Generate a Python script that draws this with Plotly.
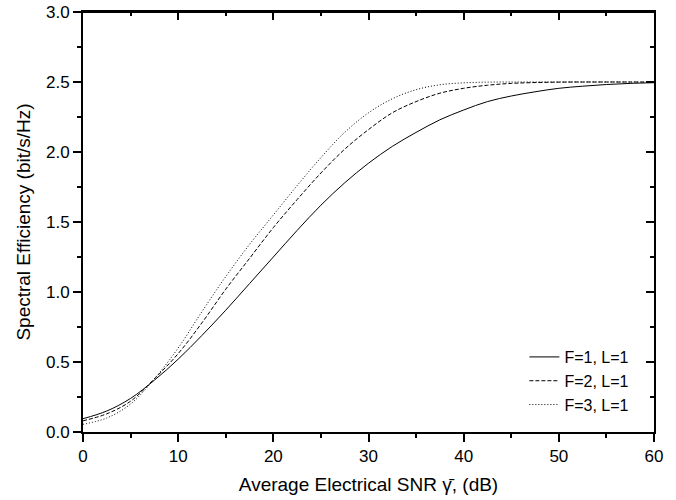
import plotly.graph_objects as go

snr_db = [0, 2.5, 5, 7.5, 10, 12.5, 15, 17.5, 20, 22.5, 25, 27.5, 30, 32.5, 35,
          37.5, 40, 42.5, 45, 47.5, 50, 52.5, 55, 57.5, 60]

se_f1 = [0.095, 0.15, 0.24, 0.37, 0.52, 0.69, 0.87, 1.06, 1.25, 1.44, 1.62, 1.78, 1.92,
         2.04, 2.14, 2.23, 2.30, 2.36, 2.40, 2.43, 2.455, 2.47, 2.482, 2.49, 2.495]
se_f2 = [0.08, 0.13, 0.22, 0.38, 0.56, 0.78, 1.02, 1.24, 1.46, 1.66, 1.85, 2.02, 2.16,
         2.28, 2.36, 2.42, 2.455, 2.477, 2.49, 2.496, 2.499, 2.5, 2.5, 2.5, 2.5]
se_f3 = [0.055, 0.10, 0.20, 0.38, 0.60, 0.86, 1.11, 1.34, 1.55, 1.76, 1.96, 2.14, 2.28,
         2.38, 2.445, 2.48, 2.494, 2.499, 2.5, 2.5, 2.5, 2.5, 2.5, 2.5, 2.5]

names = ["F=1, L=1", "F=2, L=1", "F=3, L=1"]
dashes = ["solid", "4px,2px", "1px,2px"]

FONT = "Liberation Sans, Arial, sans-serif"

fig = go.Figure()
for ys, nm, ds in zip([se_f1, se_f2, se_f3], names, dashes):
    fig.add_trace(go.Scatter(x=snr_db, y=ys, mode="lines", name=nm,
                             line=dict(color="black", width=1, dash=ds, shape="spline", smoothing=1.0)))

# invisible trace so the top/right mirrored axes get drawn
fig.add_trace(go.Scatter(x=[snr_db[0], snr_db[-1]], y=[se_f1[0], se_f1[-1]], xaxis="x2", yaxis="y2",
                         showlegend=False, hoverinfo="skip", mode="lines",
                         line=dict(color="rgba(0,0,0,0)", width=0)))

axis_common = dict(showgrid=False, zeroline=False, showline=True, linecolor="black",
                   linewidth=2, tickcolor="black", tickwidth=1.5, automargin=False,
                   tickfont=dict(family=FONT, size=17, color="black"))

fig.update_layout(
    width=676, height=500,
    margin=dict(l=83, r=22, t=12, b=68),
    paper_bgcolor="white", plot_bgcolor="white",
    font=dict(family=FONT, color="black"),
    xaxis=dict(range=[0, 60], dtick=10, ticks="outside", ticklen=8,
               minor=dict(dtick=5, ticks="outside", ticklen=4, tickcolor="black", tickwidth=1.5),
               title=dict(text="Average Electrical SNR γ̄, (dB)", font=dict(family=FONT, size=19), standoff=12),
               **axis_common),
    yaxis=dict(range=[0, 3.0], dtick=0.5, tickformat=".1f", ticks="outside", ticklen=8,
               minor=dict(dtick=0.25, ticks="outside", ticklen=4, tickcolor="black", tickwidth=1.5),
               title=dict(text="Spectral Efficiency (bit/s/Hz)", font=dict(family=FONT, size=19), standoff=10),
               **axis_common),
    xaxis2=dict(range=[0, 60], dtick=10, overlaying="x", side="top", ticks="inside", ticklen=8,
                showticklabels=False,
                minor=dict(dtick=5, ticks="inside", ticklen=4, tickcolor="black", tickwidth=1.5),
                **axis_common),
    yaxis2=dict(range=[0, 3.0], dtick=0.5, overlaying="y", side="right", ticks="inside", ticklen=8,
                showticklabels=False,
                minor=dict(dtick=0.25, ticks="inside", ticklen=4, tickcolor="black", tickwidth=1.5),
                **axis_common),
    legend=dict(x=0.773, y=0.219, xanchor="left", yanchor="top", bgcolor="rgba(0,0,0,0)",
                font=dict(family=FONT, size=16, color="black"), tracegroupgap=0),
    shapes=[dict(type="line", xref="paper", yref="paper", x0=0, x1=1, y0=1, y1=1,
                 line=dict(color="black", width=2), layer="above")],
)

fig.write_html("out.html", config={"displayModeBar": False},
               post_script="document.body.style.margin='0';document.body.style.overflow='hidden';")
